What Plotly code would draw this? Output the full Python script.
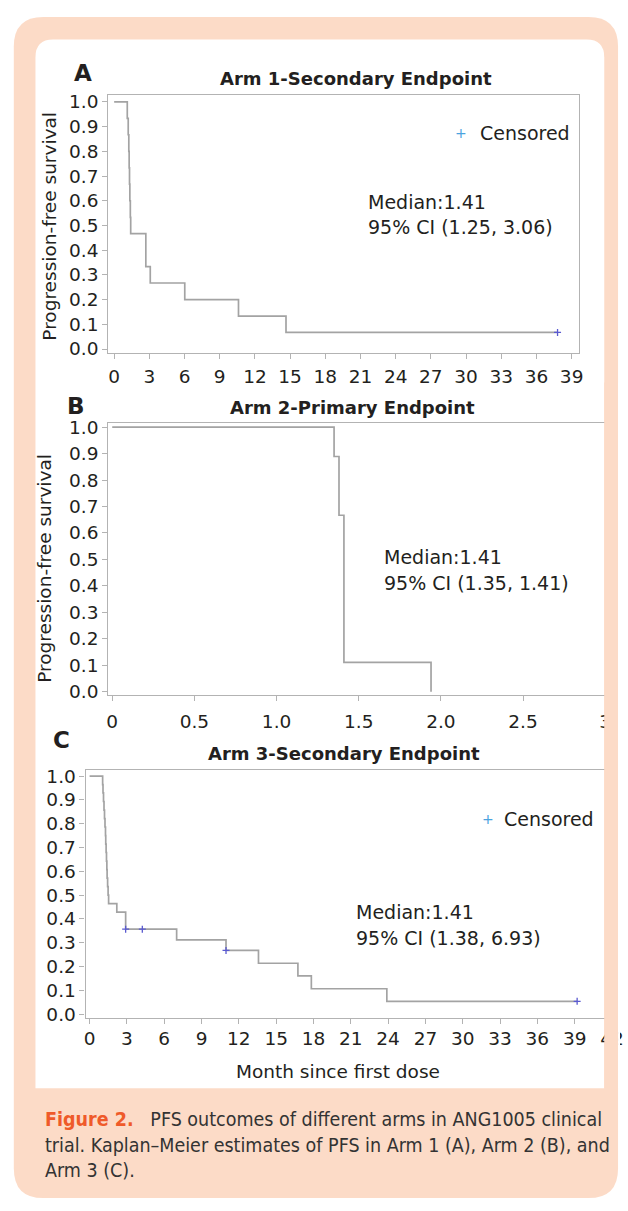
import plotly.graph_objects as go

# ---------------- data ----------------
# Arm 1 (A) - Kaplan-Meier step points (months, PFS)
arm1_time = [0, 1.12, 1.20, 1.25, 1.28, 1.31, 1.34, 1.38, 1.41, 2.70, 3.08, 6.02, 10.6, 14.65, 37.8]
arm1_surv = [1.0, 0.933, 0.867, 0.800, 0.733, 0.667, 0.600, 0.533, 0.467, 0.333, 0.267, 0.200, 0.133, 0.067, 0.067]
arm1_cens_time = [37.8]
arm1_cens_surv = [0.067]

# Arm 2 (B)
arm2_time = [0, 1.35, 1.38, 1.41, 1.94]
arm2_surv = [1.0, 0.889, 0.667, 0.111, 0.0]

# Arm 3 (C)
arm3_time = [0, 1.05, 1.08, 1.12, 1.16, 1.20, 1.24, 1.28, 1.30, 1.33, 1.36, 1.39, 1.41, 1.45, 1.49, 1.53,
             2.19, 2.90, 7.0, 10.97, 13.58, 16.75, 17.83, 23.9, 39.2]
arm3_surv = [1.0, 0.964, 0.929, 0.893, 0.857, 0.821, 0.786, 0.750, 0.714, 0.679, 0.643, 0.607, 0.571, 0.536, 0.500, 0.464,
             0.429, 0.357, 0.3125, 0.268, 0.214, 0.161, 0.107, 0.054, 0.054]
arm3_cens_time = [2.90, 4.24, 10.97, 39.2]
arm3_cens_surv = [0.357, 0.357, 0.268, 0.054]

y_ticks = [0.0, 0.1, 0.2, 0.3, 0.4, 0.5, 0.6, 0.7, 0.8, 0.9, 1.0]
ac_x_ticks = list(range(0, 43, 3))
b_x_ticks = [0, 0.5, 1.0, 1.5, 2.0, 2.5, 3.0]
b_x_labels = ["0", "0.5", "1.0", "1.5", "2.0", "2.5", "3"]

titles = ["Arm 1-Secondary Endpoint", "Arm 2-Primary Endpoint", "Arm 3-Secondary Endpoint"]
medians = [("Median:1.41", "95% CI (1.25, 3.06)"),
           ("Median:1.41", "95% CI (1.35, 1.41)"),
           ("Median:1.41", "95% CI (1.38, 6.93)")]

# ---------------- styling ----------------
W, H = 628, 1211
FONT = "DejaVu Sans, Liberation Sans, Arial, sans-serif"
TXT = "#231f20"
KM = "#a3a3a3"
AX = "#b3b3b3"
CENS = "#5a5ad0"
LEG = "#4aa3df"
PEACH = "#fcdbc7"
ORANGE = "#ef5a2a"


def px(x):
    return x / W


def py(y):
    return 1 - y / H


def rrect(x0, y0, x1, y1, rtl, rtr, rbr, rbl):
    pts = []
    pts.append(f"M{px(x0 + rtl)},{py(y0)}")
    pts.append(f"L{px(x1 - rtr)},{py(y0)}")
    if rtr:
        pts.append(f"Q{px(x1)},{py(y0)} {px(x1)},{py(y0 + rtr)}")
    pts.append(f"L{px(x1)},{py(y1 - rbr)}")
    if rbr:
        pts.append(f"Q{px(x1)},{py(y1)} {px(x1 - rbr)},{py(y1)}")
    pts.append(f"L{px(x0 + rbl)},{py(y1)}")
    if rbl:
        pts.append(f"Q{px(x0)},{py(y1)} {px(x0)},{py(y1 - rbl)}")
    pts.append(f"L{px(x0)},{py(y0 + rtl)}")
    if rtl:
        pts.append(f"Q{px(x0)},{py(y0)} {px(x0 + rtl)},{py(y0)}")
    pts.append("Z")
    return " ".join(pts)


fig = go.Figure()

series = [
    (arm1_time, arm1_surv, arm1_cens_time, arm1_cens_surv, "x", "y"),
    (arm2_time, arm2_surv, [], [], "x2", "y2"),
    (arm3_time, arm3_surv, arm3_cens_time, arm3_cens_surv, "x3", "y3"),
]
for t, s, ct, cs, xa, ya in series:
    fig.add_trace(go.Scatter(x=t, y=s, mode="lines", line=dict(shape="hv", color=KM, width=1.7),
                             xaxis=xa, yaxis=ya, showlegend=False, hoverinfo="skip"))
    if ct:
        fig.add_trace(go.Scatter(x=ct, y=cs, mode="markers",
                                 marker=dict(symbol="cross-thin", size=5, line=dict(color=CENS, width=1.3)),
                                 xaxis=xa, yaxis=ya, showlegend=False, name="Censored"))

axis_common = dict(showline=True, mirror=True, linecolor=AX, linewidth=1.3, ticks="outside", ticklen=5,
                   tickcolor=AX, tickwidth=1.2, showgrid=False, zeroline=False,
                   tickfont=dict(family=FONT, size=18.5, color=TXT))

fig.update_layout(
    width=W, height=H, margin=dict(l=0, r=0, t=0, b=0),
    paper_bgcolor="white", plot_bgcolor="white",
    font=dict(family=FONT, color=TXT),
    xaxis=dict(domain=[px(108), px(586)], range=[-0.5, 39.6], tickvals=ac_x_ticks[:14], anchor="y",
               ticklabelstandoff=2, **axis_common),
    yaxis=dict(domain=[py(350), py(89)], range=[-0.016, 1.028], tickvals=y_ticks, tickformat=".1f",
               anchor="x", **axis_common),
    xaxis2=dict(domain=[px(108), px(624)], range=[-0.024, 3.066], tickvals=b_x_ticks, ticktext=b_x_labels,
                anchor="y2", ticklabelstandoff=5, **axis_common),
    yaxis2=dict(domain=[py(696), py(421)], range=[-0.012, 1.015], tickvals=y_ticks, tickformat=".1f",
                anchor="x2", **axis_common),
    xaxis3=dict(domain=[px(85), px(624)], range=[-0.316, 42.33], tickvals=ac_x_ticks, anchor="y3",
                ticklabelstandoff=-2, **axis_common),
    yaxis3=dict(domain=[py(1023), py(772)], range=[-0.0166, 1.025], tickvals=y_ticks, tickformat=".1f",
                anchor="x3", **axis_common),
)

# background shapes
shapes = [
    dict(type="path", xref="paper", yref="paper", layer="below", path=rrect(12, 10, 626, 1205, 30, 30, 30, 30),
         fillcolor=PEACH, line=dict(width=0)),
    dict(type="path", xref="paper", yref="paper", layer="below", path=rrect(34, 33, 612, 1094, 18, 18, 0, 0),
         fillcolor="white", line=dict(width=0)),
    # the panel edge clips panels B and C on the right
    dict(type="rect", xref="paper", yref="paper", layer="above", x0=px(612), x1=px(626), y0=py(1094), y1=py(380),
         fillcolor=PEACH, line=dict(width=0)),
    dict(type="rect", xref="paper", yref="paper", layer="above", x0=px(626), x1=px(628), y0=py(1094), y1=py(380),
         fillcolor="white", line=dict(width=0)),
]
fig.update_layout(shapes=shapes)

ann = []


def text(x, y, s, size=19, xanchor="left", bold=False, color=TXT, angle=0):
    ann.append(dict(x=px(x), y=py(y), xref="paper", yref="paper", text=(f"<b>{s}</b>" if bold else s),
                    showarrow=False, xanchor=xanchor, yanchor="middle", textangle=angle,
                    font=dict(family=FONT, size=size, color=color)))


# panel letters
text(82, 67, "A", size=23, xanchor="center", bold=True)
text(75, 404, "B", size=23, xanchor="center", bold=True)
text(60, 742, "C", size=23, xanchor="center", bold=True)
# titles
text(360, 72, titles[0], size=18, xanchor="center", bold=True)
text(356, 405, titles[1], size=18, xanchor="center", bold=True)
text(348, 755, titles[2], size=18, xanchor="center", bold=True)
# y axis titles
text(48, 222, "Progression-free survival", size=18.5, xanchor="center", angle=-90)
text(43, 568, "Progression-free survival", size=18.5, xanchor="center", angle=-90)
# x axis title
text(341, 1077, "Month since first dose", size=18.5, xanchor="center")
# medians
for (l1, l2), (x0, y1, y2) in zip(medians, [(370, 197, 223), (386, 556, 583), (358, 916, 942)]):
    text(x0, y1, l1)
    text(x0, y2, l2)
# censored legends
text(466, 127, "+", size=14, xanchor="center", color=LEG)
text(484, 127, "Censored")
text(494, 821, "+", size=14, xanchor="center", color=LEG)
text(508, 821, "Censored")

# caption
cap1 = f"<b><span style='color:{ORANGE}'>Figure 2.</span></b>   PFS outcomes of different arms in ANG1005 clinical"
cap2 = "trial. Kaplan\u2013Meier estimates of PFS in Arm 1 (A), Arm 2 (B), and"
cap3 = "Arm 3 (C)."
for s, y in [(cap1, 1126), (cap2, 1152), (cap3, 1177)]:
    ann.append(dict(x=px(42), y=py(y), xref="paper", yref="paper", text=s, showarrow=False,
                    xanchor="left", yanchor="middle",
                    font=dict(family="Liberation Sans Narrow, DejaVu Sans Condensed, " + FONT, size=19.5,
                              color="#333333")))

fig.update_layout(annotations=ann)

fig.write_html("out.html")
